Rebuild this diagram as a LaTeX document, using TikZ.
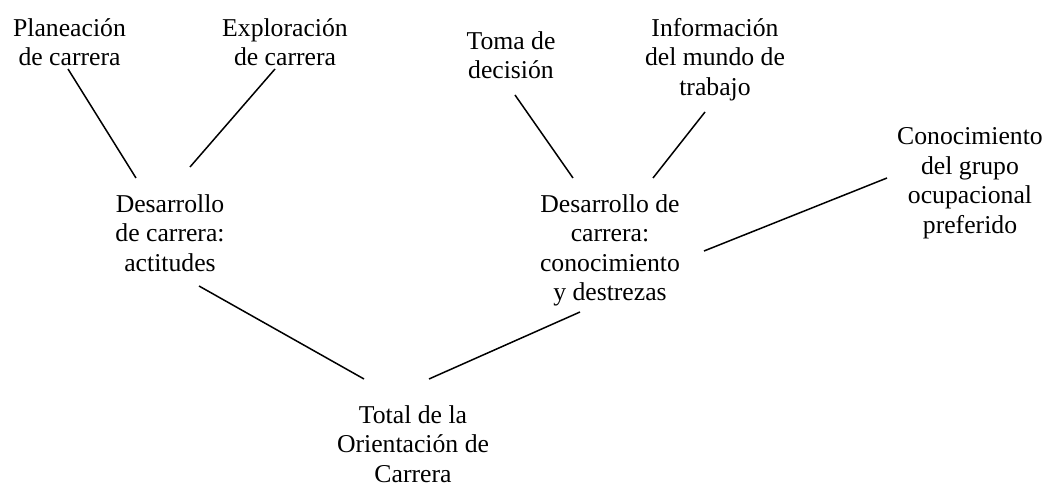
\documentclass[tikz,border=0pt]{standalone}
\usepackage{fontspec}
\setmainfont{Liberation Serif}
\newfontfamily\tnrfont{Liberation Serif}
\usetikzlibrary{calc}
\tikzset{
  lbl/.style={anchor=north, inner sep=0pt, align=center,
    font=\tnrfont\fontsize{25.7pt}{29.5pt}\selectfont},
  conn/.style={line width=1.5pt, line cap=butt}
}
\newcommand{\fs}{\rule{0pt}{20pt}}
\begin{document}
\begin{tikzpicture}[x=1pt,y=1pt]
\useasboundingbox (0,0) rectangle (1047,487);
\node[lbl] (A) at (69.5,471) {\fs Planeación\\de carrera};
\node[lbl] (B) at (285,471) {\fs Exploración\\de carrera};
\node[lbl] (C) at (511,458) {\fs Toma de\\decisión};
\node[lbl] (I) at (715,471) {\fs Información\\del mundo de\\trabajo};
\node[lbl] (G) at (970,362.5) {\fs Conocimiento\\del grupo\\ocupacional\\preferido};
\node[lbl] (D) at (170,295) {\fs Desarrollo\\de carrera:\\actitudes};
\node[lbl] (K) at (610,295) {\fs Desarrollo de\\carrera:\\conocimiento\\y destrezas};
\node[lbl] (T) at (413,84) {\fs Total de la\\Orientación de\\Carrera};
\draw[conn] ($(A.north)+(-1.5,-53)$) -- ($(D.north)+(-34,14)$);
\draw[conn] ($(B.north)+(-10,-53)$) -- ($(D.north)+(20,25)$);
\draw[conn] ($(C.north)+(4,-66)$) -- ($(K.north)+(-37,14)$);
\draw[conn] ($(I.north)+(-10,-96)$) -- ($(K.north)+(43,14)$);
\draw[conn] ($(G.north)+(-83,-53.5)$) -- ($(K.north)+(94,-59)$);
\draw[conn] ($(D.north)+(29,-94)$) -- ($(T.north)+(-49,24)$);
\draw[conn] ($(K.north)+(-30,-120)$) -- ($(T.north)+(16,24)$);
\end{tikzpicture}
\end{document}
